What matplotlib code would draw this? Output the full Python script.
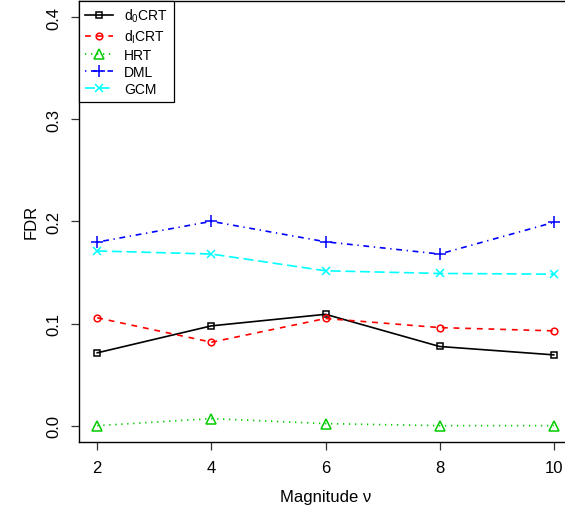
import matplotlib
matplotlib.use("Agg")
import matplotlib.pyplot as plt

plt.rcParams["font.family"] = ["Liberation Sans", "DejaVu Sans"]
plt.rcParams["mathtext.fontset"] = "custom"
plt.rcParams["mathtext.rm"] = "Liberation Sans"
plt.rcParams["mathtext.it"] = "Liberation Sans:italic"

magnitude = [2, 4, 6, 8, 10]
fdr_d0crt = [0.0713, 0.0977, 0.109, 0.0775, 0.0693]
fdr_dicrt = [0.1056, 0.0817, 0.1049, 0.096, 0.0928]
fdr_hrt = [0.0, 0.0069, 0.002, 0.0, 0.0]
fdr_dml = [0.1797, 0.2, 0.18, 0.168, 0.199]
fdr_gcm = [0.171, 0.168, 0.1516, 0.149, 0.1483]

labels = [r"d$_\mathrm{0}$CRT", r"d$_\mathrm{I}$CRT", "HRT", "DML", "GCM"]

W, H = 565, 510
fig = plt.figure(figsize=(W / 100, H / 100), dpi=100)
left, right, top, bottom = 79, 572, 1.7, 443
ax = fig.add_axes([left / W, (H - bottom) / H, (right - left) / W, (bottom - top) / H])

lw = 1.2
ax.plot(magnitude, fdr_d0crt, color="black", ls="-", lw=lw, marker="s",
        mfc="none", ms=4.5, mew=1.1, label=labels[0])
ax.plot(magnitude, fdr_dicrt, color="red", ls=(0, (3.5, 3.5)), lw=lw, marker="o",
        mfc="none", ms=4.8, mew=1.1, label=labels[1])
ax.plot(magnitude, fdr_hrt, color="#00CC00", ls=(0, (0.8, 2.8)), lw=lw, marker="^",
        mfc="none", ms=6.5, mew=1.1, label=labels[2])
ax.plot(magnitude, fdr_dml, color="blue", ls=(0, (0.8, 2.8, 3.5, 2.8)), lw=lw, marker="+",
        ms=8, mew=1.1, label=labels[3])
ax.plot(magnitude, fdr_gcm, color="cyan", ls=(0, (6, 2.8)), lw=lw, marker="x",
        ms=5.5, mew=1.1, label=labels[4])

ax.set_xlim(1.68, 10.32)
ax.set_ylim(-0.016, 0.416)
ax.set_xticks(magnitude)
ax.set_yticks([0.0, 0.1, 0.2, 0.3, 0.4])
ax.set_yticklabels(["0.0", "0.1", "0.2", "0.3", "0.4"], rotation=90, va="center")
ax.tick_params(labelsize=12, length=6, width=0.9, colors="#333333", labelcolor="black", pad=7)
ax.set_xlabel("Magnitude ν", fontsize=12, labelpad=10)
ax.set_ylabel("FDR", fontsize=12, labelpad=5)
for s in ax.spines.values():
    s.set_linewidth(1.0)

leg = ax.legend(loc="upper left", borderaxespad=0, fancybox=False, edgecolor="black",
                framealpha=1, fontsize=10, handlelength=2.0, labelspacing=0.22,
                borderpad=0.45, handletextpad=0.8)
leg.get_frame().set_linewidth(0.9)

fig.savefig("out.png", dpi=100)
